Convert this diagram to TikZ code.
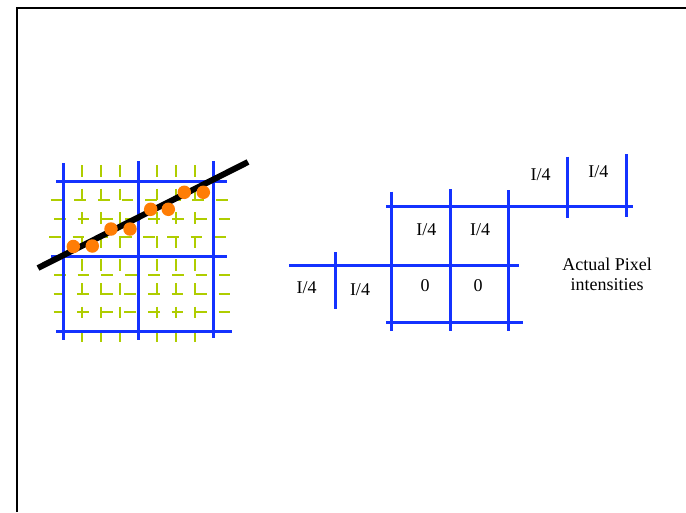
\documentclass[tikz,border=0pt]{standalone}
\usepackage{fontspec}
\setmainfont{Liberation Serif}
\definecolor{gblue}{RGB}{20,50,255}
\definecolor{ggreen}{RGB}{175,205,0}
\definecolor{dotor}{RGB}{255,125,5}
\begin{document}
\begin{tikzpicture}[x=1pt,y=-1pt,
  blueline/.style={draw=gblue,line width=3pt},
  subline/.style={draw=ggreen,line width=2pt,dash pattern=on 11.8pt off 11.8pt},
  lbl/.style={font=\fontsize{18}{21}\selectfont,inner sep=0pt,anchor=base},
  dotnode/.style={fill=dotor,circle,minimum size=13.5pt,inner sep=0pt}]
\useasboundingbox (0,0) rectangle (686,512);
% frame
\draw[line width=2pt] (17,512) -- (17,8) -- (686,8);
% green sub-pixel lines
\foreach \x in {82.25,101,119.75,157.25,176,194.75}
  \draw[subline] (\x,165) -- (\x,343);
\foreach \y/\s in {199.75/50.7,218.5/54,237.25/49,274.75/54,293.5/53.5,312.25/53.5}
  \draw[subline] (\s,\y) -- (230,\y);
% blue pixel grid (left)
\draw[blueline] (63.5,163) -- (63.5,340);
\draw[blueline] (138.5,161) -- (138.5,340);
\draw[blueline] (213.5,161) -- (213.5,338);
\draw[blueline] (56,181) -- (227,181);
\draw[blueline] (51,256) -- (227,256);
\draw[blueline] (56,331) -- (232,331);
% black line
\draw[line width=6pt] (38,268) -- (248,162);
% orange samples
\node[dotnode] (d1) at (73.3,246.5) {};
\node[dotnode] (d2) at (92.3,246) {};
\node[dotnode] (d3) at (111,229) {};
\node[dotnode] (d4) at (130,229) {};
\node[dotnode] (d5) at (150.7,209.3) {};
\node[dotnode] (d6) at (168.3,209.3) {};
\node[dotnode] (d7) at (184.3,192.3) {};
\node[dotnode] (d8) at (203.3,192.3) {};
% right grid
\draw[blueline] (386,206) -- (633,206);
\draw[blueline] (289,265.7) -- (519,265.7);
\draw[blueline] (386,322.7) -- (523,322.7);
\draw[blueline] (335,252) -- (335,309);
\draw[blueline] (391,191.5) -- (391,331);
\draw[blueline] (450.7,189) -- (450.7,331);
\draw[blueline] (508.5,190) -- (508.5,331);
\draw[blueline] (567.5,156.5) -- (567.5,218);
\draw[blueline] (626.7,154) -- (626.7,216.5);
% labels
\node[lbl] (a1) at (306.7,293.3) {I/4};
\node[lbl] (a2) at (360,295) {I/4};
\node[lbl] (a3) at (426.3,235) {I/4};
\node[lbl] (a4) at (480,235) {I/4};
\node[lbl] (a5) at (540.7,180) {I/4};
\node[lbl] (a6) at (598.3,177) {I/4};
\node[lbl] (z1) at (425,291.7) {0};
\node[lbl] (z2) at (478.2,291.7) {0};
\node[lbl] (t1) at (607.2,270) {Actual Pixel};
\node[lbl] (t2) at (607.2,290) {intensities};
\end{tikzpicture}
\end{document}
